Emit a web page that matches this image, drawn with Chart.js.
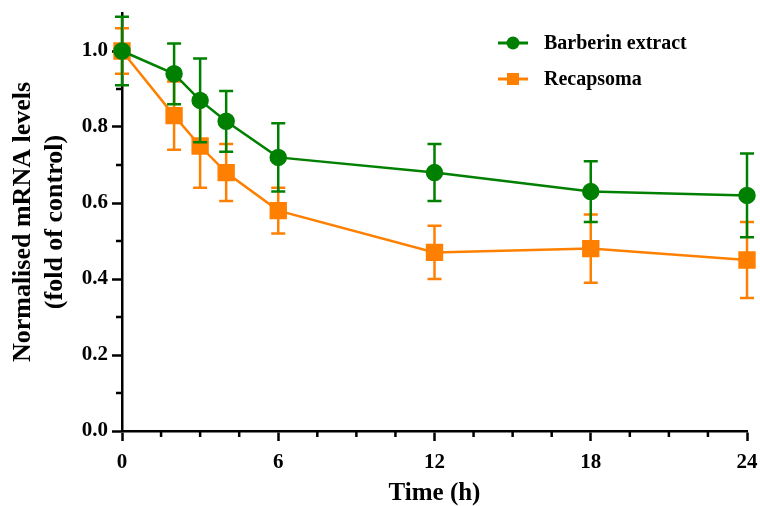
<!DOCTYPE html>
<html>
<head>
<meta charset="utf-8">
<script src="https://cdn.jsdelivr.net/npm/chart.js@4"></script>
<style>
  html, body { margin: 0; padding: 0; background: #fff; }
  #wrap { width: 760px; height: 506px; }
</style>
</head>
<body>
<div id="wrap"><canvas id="lineChart"></canvas></div>
<script>
// time points (h)
var timePoints = [0, 2, 3, 4, 6, 12, 18, 24];
// Barberin extract
var barberinMean = [1.0, 0.94, 0.87, 0.815, 0.72, 0.68, 0.63, 0.62];
var barberinErr  = [0.09, 0.08, 0.11, 0.08, 0.09, 0.075, 0.08, 0.11];
// Recapsoma
var recapMean = [1.0, 0.83, 0.75, 0.68, 0.58, 0.47, 0.48, 0.45];
var recapErr  = [0.06, 0.09, 0.11, 0.075, 0.06, 0.07, 0.09, 0.10];
// axis ticks
var xMajorTicks = [0, 6, 12, 18, 24];
var xMinorTicks = [1.5, 3, 4.5, 7.5, 9, 10.5, 13.5, 15, 16.5, 19.5, 21, 22.5];
var yMajorTicks = [0.0, 0.2, 0.4, 0.6, 0.8, 1.0];
var yMinorTicks = [0.1, 0.3, 0.5, 0.7, 0.9];

var GREEN = '#008000';
var ORANGE = '#ff8000';
var FONT = "'Liberation Serif', 'Times New Roman', serif";

function toPoints(xs, ys) {
  return xs.map(function (x, i) { return {x: x, y: ys[i]}; });
}

// error bars, drawn just before each dataset
var errorBars = {
  id: 'errorBars',
  beforeDatasetDraw: function (chart, args) {
    var ds = chart.data.datasets[args.index];
    var yScale = chart.scales.y;
    var ctx = chart.ctx;
    ctx.save();
    ctx.strokeStyle = ds.borderColor;
    ctx.lineWidth = 2.5;
    args.meta.data.forEach(function (pt, i) {
      var v = ds.data[i].y, e = ds.errors[i];
      var top = yScale.getPixelForValue(v + e);
      var bot = yScale.getPixelForValue(v - e);
      ctx.beginPath();
      ctx.moveTo(pt.x, top); ctx.lineTo(pt.x, bot);
      ctx.moveTo(pt.x - 7, top); ctx.lineTo(pt.x + 7, top);
      ctx.moveTo(pt.x - 7, bot); ctx.lineTo(pt.x + 7, bot);
      ctx.stroke();
    });
    ctx.restore();
  }
};

// minor ticks + legend
var extras = {
  id: 'extras',
  afterDraw: function (chart) {
    var ctx = chart.ctx;
    var xs = chart.scales.x, ys = chart.scales.y;
    ctx.save();
    ctx.strokeStyle = '#000';
    ctx.lineWidth = 2.5;
    ctx.beginPath();
    xMinorTicks.forEach(function (v) {
      var px = xs.getPixelForValue(v);
      ctx.moveTo(px, xs.top); ctx.lineTo(px, xs.top + 6);
    });
    yMinorTicks.forEach(function (v) {
      var py = ys.getPixelForValue(v);
      ctx.moveTo(ys.right, py); ctx.lineTo(ys.right - 6, py);
    });
    ctx.stroke();

    // legend
    var lx = 498, ly = 43, gap = 36;
    ctx.font = 'bold 20px ' + FONT;
    ctx.textBaseline = 'middle';
    ctx.textAlign = 'left';
    chart.data.datasets.forEach(function (ds, i) {
      var y = ly + i * gap;
      ctx.strokeStyle = ds.borderColor;
      ctx.fillStyle = ds.borderColor;
      ctx.lineWidth = 3;
      ctx.beginPath();
      ctx.moveTo(lx, y); ctx.lineTo(lx + 30, y);
      ctx.stroke();
      ctx.beginPath();
      if (ds.pointStyle === 'rect') {
        ctx.rect(lx + 15 - 6, y - 6, 12, 12);
      } else {
        ctx.arc(lx + 15, y, 6.5, 0, Math.PI * 2);
      }
      ctx.fill();
      ctx.fillStyle = '#000';
      ctx.fillText(ds.label, lx + 46, y + 1);
    });
    ctx.restore();
  }
};

var ctx = document.getElementById('lineChart').getContext('2d');
var lineChart = new Chart(ctx, {
  type: 'line',
  data: {
    datasets: [
      {
        label: 'Barberin extract',
        data: toPoints(timePoints, barberinMean),
        errors: barberinErr,
        borderColor: GREEN,
        backgroundColor: GREEN,
        pointBackgroundColor: GREEN,
        pointBorderColor: GREEN,
        pointStyle: 'circle',
        pointRadius: 7.5,
        borderWidth: 2.5,
        tension: 0,
        clip: false
      },
      {
        label: 'Recapsoma',
        data: toPoints(timePoints, recapMean),
        errors: recapErr,
        borderColor: ORANGE,
        backgroundColor: ORANGE,
        pointBackgroundColor: ORANGE,
        pointBorderColor: ORANGE,
        pointStyle: 'rect',
        pointRadius: 10.5,
        borderWidth: 2.5,
        tension: 0,
        clip: false
      }
    ]
  },
  options: {
    responsive: true,
    maintainAspectRatio: false,
    animation: false,
    layout: { padding: { left: 0, right: 0, top: 9, bottom: 0 } },
    plugins: {
      legend: { display: false },
      tooltip: { enabled: false }
    },
    scales: {
      x: {
        type: 'linear',
        min: 0,
        max: 24,
        afterBuildTicks: function (scale) {
          scale.ticks = xMajorTicks.map(function (v) { return {value: v}; });
        },
        afterFit: function (scale) {
          scale.height = 75;
          scale.paddingRight = 9;
        },
        border: { display: true, color: '#000', width: 2.5 },
        grid: { drawOnChartArea: false, drawTicks: true, tickLength: 10, tickColor: '#000', tickWidth: 2.5 },
        ticks: {
          color: '#000',
          padding: 9,
          maxRotation: 0,
          font: { family: FONT, size: 21, weight: 'bold' },
          callback: function (v) { return v; }
        },
        title: {
          display: true,
          text: 'Time (h)',
          color: '#000',
          padding: { top: 0, bottom: 0 },
          font: { family: FONT, size: 25, weight: 'bold', lineHeight: 1 }
        }
      },
      y: {
        type: 'linear',
        min: 0,
        max: 1.1,
        afterBuildTicks: function (scale) {
          scale.ticks = yMajorTicks.map(function (v) { return {value: v}; });
        },
        afterFit: function (scale) {
          scale.width = 122;
          scale.paddingTop = 0;
        },
        border: { display: true, color: '#000', width: 2.5 },
        grid: { drawOnChartArea: false, drawTicks: true, tickLength: 10, tickColor: '#000', tickWidth: 2.5 },
        ticks: {
          color: '#000',
          padding: 4,
          font: { family: FONT, size: 21, weight: 'bold' },
          callback: function (v) { return v.toFixed(1); }
        },
        title: {
          display: true,
          text: ['Normalised mRNA levels', '(fold of control)'],
          color: '#000',
          padding: { top: 8, bottom: 0 },
          font: { family: FONT, size: 26, weight: 'bold', lineHeight: 1.2 }
        }
      }
    }
  },
  plugins: [errorBars, extras]
});
</script>
</body>
</html>
